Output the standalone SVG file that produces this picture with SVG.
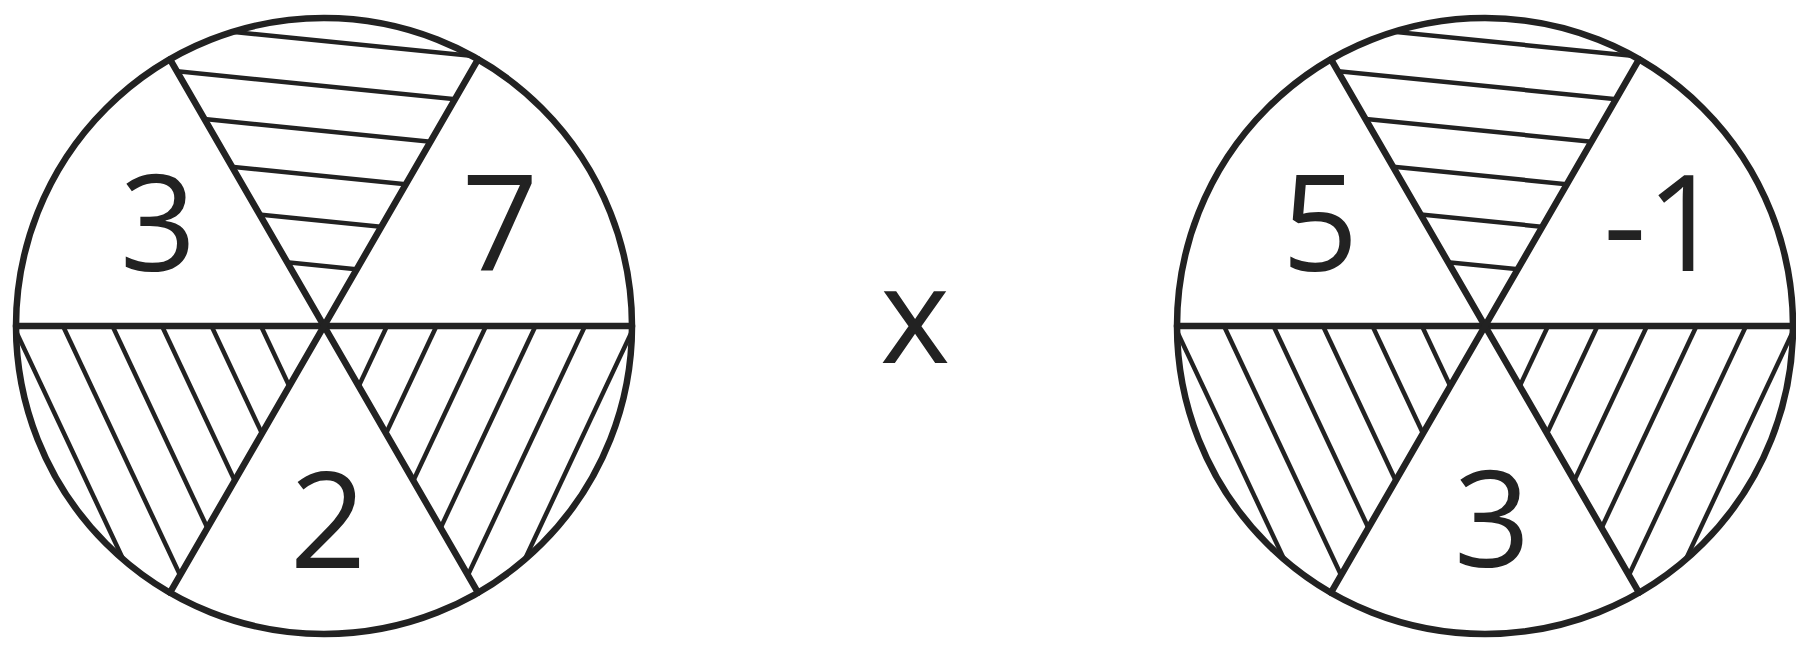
<svg xmlns="http://www.w3.org/2000/svg" xmlns:xlink="http://www.w3.org/1999/xlink" width="1796" height="648" viewBox="0 0 1796 648">
  <style>
    .edge { fill: none; stroke: #222; stroke-width: 6.5; stroke-linecap: round; }
    .hatch { fill: none; stroke: #222; stroke-width: 4.5; }
    .num { font-family: "Open Sans", "Liberation Sans", sans-serif; font-size: 134px; fill: #222; text-anchor: middle; }
  </style>
  <defs>
    <clipPath id="clipTop" clipPathUnits="userSpaceOnUse">
      <path d="M0,0 L-154,-266.7 A308,308 0 0 1 154,-266.7 Z"/>
    </clipPath>
    <clipPath id="clipBL" clipPathUnits="userSpaceOnUse">
      <path d="M0,0 L-308,0 A308,308 0 0 0 -154,266.7 Z"/>
    </clipPath>
    <clipPath id="clipBR" clipPathUnits="userSpaceOnUse">
      <path d="M0,0 L154,266.7 A308,308 0 0 0 308,0 Z"/>
    </clipPath>
    <g id="wheel">
      <g class="hatch" clip-path="url(#clipTop)">
        <line x1="-320" y1="-92" x2="320" y2="-28"/>
        <line x1="-320" y1="-137" x2="320" y2="-73"/>
        <line x1="-320" y1="-182" x2="320" y2="-118"/>
        <line x1="-320" y1="-227" x2="320" y2="-163"/>
        <line x1="-320" y1="-272" x2="320" y2="-208"/>
        <line x1="-320" y1="-317" x2="320" y2="-253"/>
      </g>
      <g class="hatch" clip-path="url(#clipBL)">
        <line x1="-67.7" y1="-10" x2="92.1" y2="330"/>
        <line x1="-117.2" y1="-10" x2="42.6" y2="330"/>
        <line x1="-166.7" y1="-10" x2="-6.9" y2="330"/>
        <line x1="-216.2" y1="-10" x2="-56.4" y2="330"/>
        <line x1="-265.7" y1="-10" x2="-105.9" y2="330"/>
        <line x1="-315.2" y1="-10" x2="-155.4" y2="330"/>
      </g>
      <g class="hatch" clip-path="url(#clipBR)">
        <line x1="67.7" y1="-10" x2="-92.1" y2="330"/>
        <line x1="117.2" y1="-10" x2="-42.6" y2="330"/>
        <line x1="166.7" y1="-10" x2="6.9" y2="330"/>
        <line x1="216.2" y1="-10" x2="56.4" y2="330"/>
        <line x1="265.7" y1="-10" x2="105.9" y2="330"/>
        <line x1="315.2" y1="-10" x2="155.4" y2="330"/>
      </g>
      <line class="edge" x1="-308" y1="0" x2="308" y2="0"/>
      <line class="edge" x1="-154" y1="-266.7" x2="154" y2="266.7"/>
      <line class="edge" x1="154" y1="-266.7" x2="-154" y2="266.7"/>
      <circle class="edge" cx="0" cy="0" r="308"/>
    </g>
  </defs>

  <g id="circle-left" transform="translate(324,326)">
    <use xlink:href="#wheel" href="#wheel"/>
    <text class="num" x="-166" y="-55">3</text>
    <text class="num" x="176" y="-55">7</text>
    <text class="num" x="4" y="242">2</text>
  </g>

  <g id="times">
    <text class="num" x="915" y="363">x</text>
  </g>

  <g id="circle-right" transform="translate(1485,326)">
    <use xlink:href="#wheel" href="#wheel"/>
    <text class="num" x="-165" y="-55">5</text>
    <text class="num" x="178" y="-55">-1</text>
    <text class="num" x="7" y="241">3</text>
  </g>

  <g id="connectors"></g>
</svg>
